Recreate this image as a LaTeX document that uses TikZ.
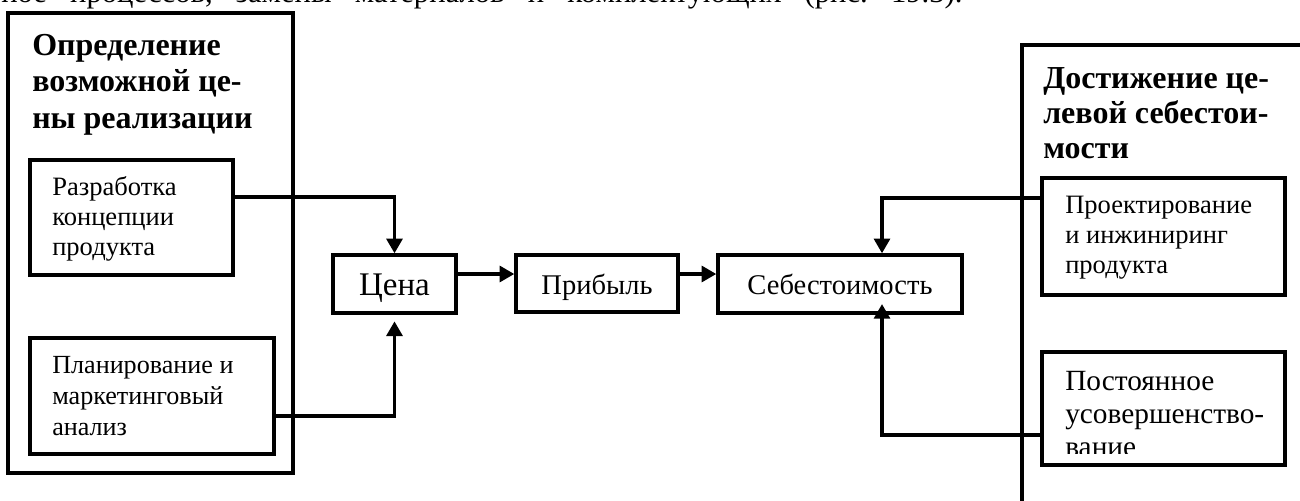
\documentclass[tikz,border=0pt]{standalone}
\usepackage{fontspec}
\setmainfont{Liberation Serif}
\usetikzlibrary{arrows.meta}
\frenchspacing

% multi-line text whose anchor is the baseline of its first line
\newcommand\boxlines[2]{\parbox[t]{#1}{\raggedright #2}}

\tikzset{
  box/.style={draw, line width=2.6pt, inner sep=0pt},
  sz/.style 2 args={minimum width=#1*0.75pt, minimum height=#2*0.75pt},
  conn/.style={line width=2.4pt, -{Triangle[length=11pt,width=12pt]}},
  txt/.style={anchor=base west, inner sep=0pt},
  titlefont/.style={font=\fontsize{24pt}{27.4pt}\selectfont\bfseries},
  smallfont/.style={font=\fontsize{19.9pt}{22.5pt}\selectfont},
  midfont/.style={font=\fontsize{21.4pt}{25pt}\selectfont, text height=16pt, text depth=0pt},
}

\begin{document}
\begin{tikzpicture}[x=0.75pt,y=-0.75pt]
\useasboundingbox (0,0) rectangle (1300,500);
\fill[white] (0,0) rectangle (1300,500);
\clip (0,0) rectangle (1300,500);

% last line of the preceding paragraph
\node[txt, font=\fontsize{23pt}{26pt}\selectfont] (para) at (1,2)
  {\makebox[721pt][s]{ное процессов, замены материалов и комплектующих (рис. 19.3).}};

% left group: possible selling price
\node[box, sz={285}{460}] (outerL) at (150.5,243) {};
\node[txt, titlefont] (titleL) at (32,55)
  {\boxlines{200pt}{Определение\\возможной це-\\ны реализации}};
\node[box, sz={203}{115}] (b1) at (131.5,217.5) {};
\node[txt, smallfont] (b1t) at (52,195)
  {\boxlines{150pt}{Разработка\\концепции\\продукта}};
\node[box, sz={244}{116}] (b2) at (152,396) {};
\node[txt, font=\fontsize{19.6pt}{23.25pt}\selectfont] (b2t) at (52,373)
  {\boxlines{170pt}{Планирование и\\маркетинговый\\анализ}};

% central chain
\node[box, sz={123}{58}, font=\fontsize{24.75pt}{28pt}\selectfont, text height=16.5pt, text depth=0pt] (cena) at (394.5,284) {Цена};
\node[box, sz={162}{57}, midfont] (prib) at (597,283.5) {Прибыль};
\node[box, sz={244}{58}, midfont] (seb) at (840,284) {Себестоимость};

% right group: target cost
\node[box, sz={308}{485}] (outerR) at (1176,287.5) {};
\node[txt, font=\fontsize{24pt}{26.25pt}\selectfont\bfseries] (titleR) at (1043,88)
  {\boxlines{220pt}{Достижение це-\\левой себестои-\\мости}};
\node[box, sz={243}{117}] (pr) at (1163.5,236.5) {};
\node[txt, smallfont] (prt) at (1065,213)
  {\boxlines{170pt}{Проектирование\\и инжиниринг\\продукта}};
\node[box, sz={243}{113}] (po) at (1163.5,408.5) {};
\begin{scope}
  \clip (1042,352) rectangle (1285,453);
  \node[txt, font=\fontsize{22pt}{25.1pt}\selectfont] (pot) at (1065,390)
    {\boxlines{170pt}{Постоянное\\усовершенство-\\вание}};
\end{scope}

% connector levels
\coordinate (r1) at (0,197);
\coordinate (r2) at (0,416);
\coordinate (r3) at (0,274);
\coordinate (r4) at (0,198);
\coordinate (r5) at (0,435);
\coordinate (sx) at (882,0);

\draw[conn] (b1.east |- r1) -| (cena.north);
\draw[conn, shorten >=5pt] (b2.east |- r2) -| (cena.south);
\draw[conn] (cena.east |- r3) -- (prib.west |- r3);
\draw[conn] (prib.east |- r3) -- (seb.west |- r3);
\draw[conn] (pr.west |- r4) -| (sx |- seb.north);
\draw[conn, shorten >=-8pt] (po.west |- r5) -| (sx |- seb.south);
\end{tikzpicture}
\end{document}
